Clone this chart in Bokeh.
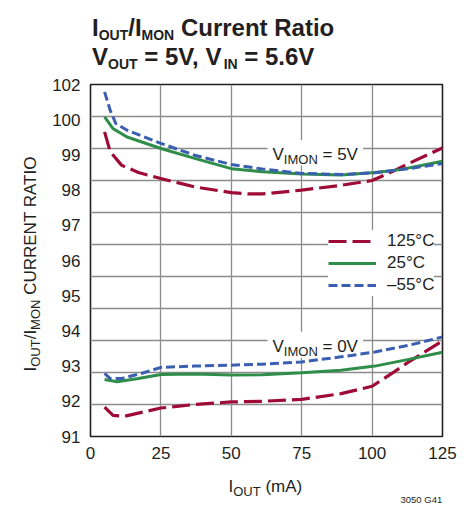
import math
from bokeh.plotting import figure
from bokeh.layouts import column, row
from bokeh.models import (Range1d, LinearAxis, FixedTicker, Label, Legend, LegendItem,
                          BoxAnnotation)
from bokeh.embed import file_html
from bokeh.resources import INLINE

# ---------------- data ----------------
x_ticks = [0, 25, 50, 75, 100, 125]
y_tick_labels = ["91", "92", "93", "94", "95", "96", "97", "98", "99", "100", "102"]

# V_IMON = 5V group
hi_m55_x = [5, 7, 9, 13, 25, 37, 50, 61, 75, 89, 101, 113, 125]
hi_m55_y = [101.77, 101.19, 100.78, 100.57, 100.16, 99.79, 99.50, 99.36, 99.22, 99.19, 99.24, 99.37, 99.53]
hi_25_x = [5, 8, 13, 25, 37, 50, 61, 75, 89, 101, 110, 125]
hi_25_y = [100.99, 100.62, 100.36, 100.00, 99.69, 99.37, 99.27, 99.20, 99.17, 99.25, 99.34, 99.60]
hi_125_x = [5, 7, 11, 17, 25, 37, 50, 56, 61, 75, 89, 100, 107, 113, 125]
hi_125_y = [100.52, 99.90, 99.48, 99.25, 99.06, 98.80, 98.62, 98.58, 98.58, 98.70, 98.85, 99.00, 99.27, 99.53, 100.02]

# V_IMON = 0V group
lo_m55_x = [5, 7, 11, 18, 25, 37, 50, 61, 75, 89, 101, 113, 125]
lo_m55_y = [92.97, 92.81, 92.81, 92.97, 93.16, 93.20, 93.23, 93.26, 93.33, 93.49, 93.64, 93.85, 94.11]
lo_25_x = [5, 9.5, 17, 25, 37, 50, 61, 75, 89, 101, 113, 125]
lo_25_y = [92.78, 92.71, 92.81, 92.94, 92.95, 92.92, 92.93, 92.99, 93.07, 93.20, 93.41, 93.63]
lo_125_x = [5, 8, 12, 25, 37, 50, 61, 75, 89, 100, 107, 113, 125]
lo_125_y = [91.92, 91.66, 91.63, 91.89, 92.00, 92.08, 92.10, 92.16, 92.34, 92.57, 92.97, 93.33, 93.99]

series_names = ["125°C", "25°C", "\u201355°C"]

# ---------------- styling ----------------
FONT = "Liberation Sans"
TXT = "#231f20"
RED, GREEN, BLUE = "#9e0b36", "#2f8d4a", "#3a5fb0"

# approximate advance widths (per 1000 em) for chaining text pieces
_REG = {' ': 278, '(': 333, ')': 333, '/': 278, '=': 584, ',': 278, '.': 278, '°': 400,
        'A': 667, 'C': 722, 'E': 667, 'G': 778, 'I': 278, 'M': 833, 'N': 722, 'O': 778,
        'R': 722, 'T': 611, 'U': 722, 'V': 667, 'a': 556, 'm': 833, 'e': 556, 'n': 556,
        'r': 333, 't': 278, 'u': 556, 'i': 222, 'o': 556}
_BOLD = {' ': 278, '/': 278, '=': 584, ',': 278, '.': 278, 'C': 722, 'I': 278, 'M': 833,
         'N': 722, 'O': 778, 'R': 722, 'T': 611, 'U': 722, 'V': 667, 'a': 556, 'e': 556,
         'i': 278, 'n': 611, 'o': 611, 'r': 389, 't': 333, 'u': 611}
MID = 0.3465  # distance from alphabetic baseline to text-box middle, in em


def text_width(s, size, bold):
    tab = _BOLD if bold else _REG
    return sum(tab.get(c, 556) for c in s) * size / 1000.0


# page layout: T (title) on top, row(L, M) in the middle, B (x title) at the bottom
PW = 471
TH = 72
MH = 398
BH = 506 - TH - MH
LW = 45
MW = PW - LW
FL, FR, FT, FB = 90, 442, 84, 436  # plot frame in page pixels


def blank(w, h):
    f = figure(width=w, height=h, output_backend="svg", toolbar_location=None,
               x_range=Range1d(0, 1), y_range=Range1d(0, 1),
               x_axis_location=None, y_axis_location=None,
               min_border=0, min_border_left=0, min_border_right=0,
               min_border_top=0, min_border_bottom=0)
    f.grid.visible = False
    f.outline_line_color = None
    f.background_fill_color = "white"
    f.border_fill_color = "white"
    return f


T = blank(PW, TH)
L = blank(LW, MH)
B = blank(PW, BH)

M = figure(width=MW, height=MH, output_backend="svg", toolbar_location=None,
           x_range=Range1d(0, 125), y_range=Range1d(91, 102),
           y_axis_location=None,
           min_border_left=FL - LW, min_border_right=PW - FR,
           min_border_top=FT - TH, min_border_bottom=TH + MH - FB)
M.background_fill_color = "white"
M.border_fill_color = "white"
M.outline_line_color = TXT
M.outline_line_width = 1.6

M.xgrid.ticker = FixedTicker(ticks=x_ticks[1:-1])
M.ygrid.ticker = FixedTicker(ticks=list(range(92, 102)))
for g in (M.xgrid, M.ygrid):
    g.grid_line_color = "#8c8c8c"
    g.grid_line_width = 1.3

xa = M.xaxis[0]
xa.ticker = FixedTicker(ticks=x_ticks)
xa.axis_line_color = None
xa.major_tick_line_color = None
xa.minor_tick_line_color = None
xa.major_tick_out = 0
xa.major_label_standoff = 10
xa.major_label_text_font = FONT
xa.major_label_text_font_size = "17px"
xa.major_label_text_color = TXT

M.extra_y_ranges = {"lab": Range1d(0, len(y_tick_labels) - 1)}
ya = LinearAxis(y_range_name="lab", ticker=FixedTicker(ticks=list(range(len(y_tick_labels)))),
                major_label_overrides={i: t for i, t in enumerate(y_tick_labels)})
ya.axis_line_color = None
ya.major_tick_line_color = None
ya.minor_tick_line_color = None
ya.major_tick_out = 0
ya.major_label_standoff = 10
ya.major_label_text_font = FONT
ya.major_label_text_font_size = "17px"
ya.major_label_text_color = TXT
M.add_layout(ya, "left")

# white boxes behind the in-plot annotations
for (l, r, t, b) in [(62.9, 96.8, 100.26, 99.47), (62.9, 96.8, 94.27, 93.45)]:
    M.add_layout(BoxAnnotation(left=l, right=r, top=t, bottom=b, fill_color="white",
                               fill_alpha=1, line_color=None, level="underlay"))

styles = {
    "125": dict(color=RED, line_width=3.2, line_dash="18 6"),
    "25": dict(color=GREEN, line_width=3.0),
    "m55": dict(color=BLUE, line_width=3.0, line_dash="9 4"),
}
r1 = M.line(hi_125_x, hi_125_y, **styles["125"])
M.line(lo_125_x, lo_125_y, **styles["125"])
r2 = M.line(hi_25_x, hi_25_y, **styles["25"])
M.line(lo_25_x, lo_25_y, **styles["25"])
r3 = M.line(hi_m55_x, hi_m55_y, **styles["m55"])
M.line(lo_m55_x, lo_m55_y, **styles["m55"])

legend = Legend(items=[LegendItem(label=series_names[0], renderers=[r1]),
                       LegendItem(label=series_names[1], renderers=[r2]),
                       LegendItem(label=series_names[2], renderers=[r3])],
                location=(238, 140), orientation="vertical",
                glyph_width=48, glyph_height=22, label_height=22, label_standoff=11,
                spacing=0, padding=5, margin=0,
                label_text_font=FONT, label_text_font_size="17px", label_text_color=TXT,
                background_fill_color="white", background_fill_alpha=1,
                border_line_color=None)
M.add_layout(legend, "center")


# ---- text pieces (page pixel -> each figure's frame-relative screen coords) ----
def to_T(ix, iy):
    return ix, TH - iy


def to_L(ix, iy):
    return ix, TH + MH - iy


def to_M(ix, iy):
    return ix - FL, FB - iy


def to_B(ix, iy):
    return ix, 506 - iy


ROT_SHIFT = 35.0  # empirical correction along the reading direction of rotated labels


def put(fig, conv, text, ix, iy, size, bold=False, rotated=False, align="left"):
    """Place a text piece whose alphabetic baseline starts at page pixel (ix, iy)."""
    if rotated:
        sx, sy = conv(ix - MID * size, iy + ROT_SHIFT)
        angle = math.pi / 2
    else:
        sx, sy = conv(ix, iy - MID * size)
        angle = 0.0
    fig.add_layout(Label(x=sx, y=sy, x_units="screen", y_units="screen",
                         text=text, text_font=FONT, text_font_size=f"{size}px",
                         text_font_style="bold" if bold else "normal",
                         text_color=TXT, text_baseline="middle", text_align=align,
                         angle=angle))


def chain(fig, conv, pieces, ix, iy, bold=False, vertical=False):
    """pieces: (text, size, is_subscript). Baseline start at page (ix, iy)."""
    pos = 0.0
    for text, size, sub in pieces:
        stripped = text.lstrip(" ")
        pos += text_width(text[:len(text) - len(stripped)], size, bold)
        drop = 4.0 if sub else 0.0
        if vertical:
            put(fig, conv, stripped, ix + drop, iy - pos, size, bold, rotated=True)
        else:
            put(fig, conv, stripped, ix + pos, iy + drop, size, bold)
        pos += text_width(stripped, size, bold)


# title
chain(T, to_T, [("I", 24, False), ("OUT", 14, True), ("/I", 24, False), ("MON", 14, True),
                (" Current Ratio", 24, False)], 91.5, 35.5, bold=True)
chain(T, to_T, [("V", 24, False), ("OUT", 14, True), (" = 5V, V", 24, False), ("IN", 14, True),
                (" = 5.6V", 24, False)], 91.5, 64.5, bold=True)

# in-plot annotations
chain(M, to_M, [("V", 17, False), ("IMON", 13, True), (" = 5V", 17, False)], 272, 160)
chain(M, to_M, [("V", 17, False), ("IMON", 13, True), (" = 0V", 17, False)], 272, 351.7)

# x axis title and figure id
chain(B, to_B, [("I", 17, False), ("OUT", 13, True), (" (mA)", 17, False)], 228, 492)
put(B, to_B, "3050 G41", 441.7, 502, 9.5, align="right")

# y axis title (rotated, reads bottom to top)
chain(L, to_L, [("I", 17, False), ("OUT", 13, True), ("/I", 17, False), ("MON", 13, True),
                (" CURRENT RATIO", 17, False)], 36, 370, vertical=True)

layout = column(T, row(L, M), B)
open("out.html", "w").write(file_html(layout, INLINE))
